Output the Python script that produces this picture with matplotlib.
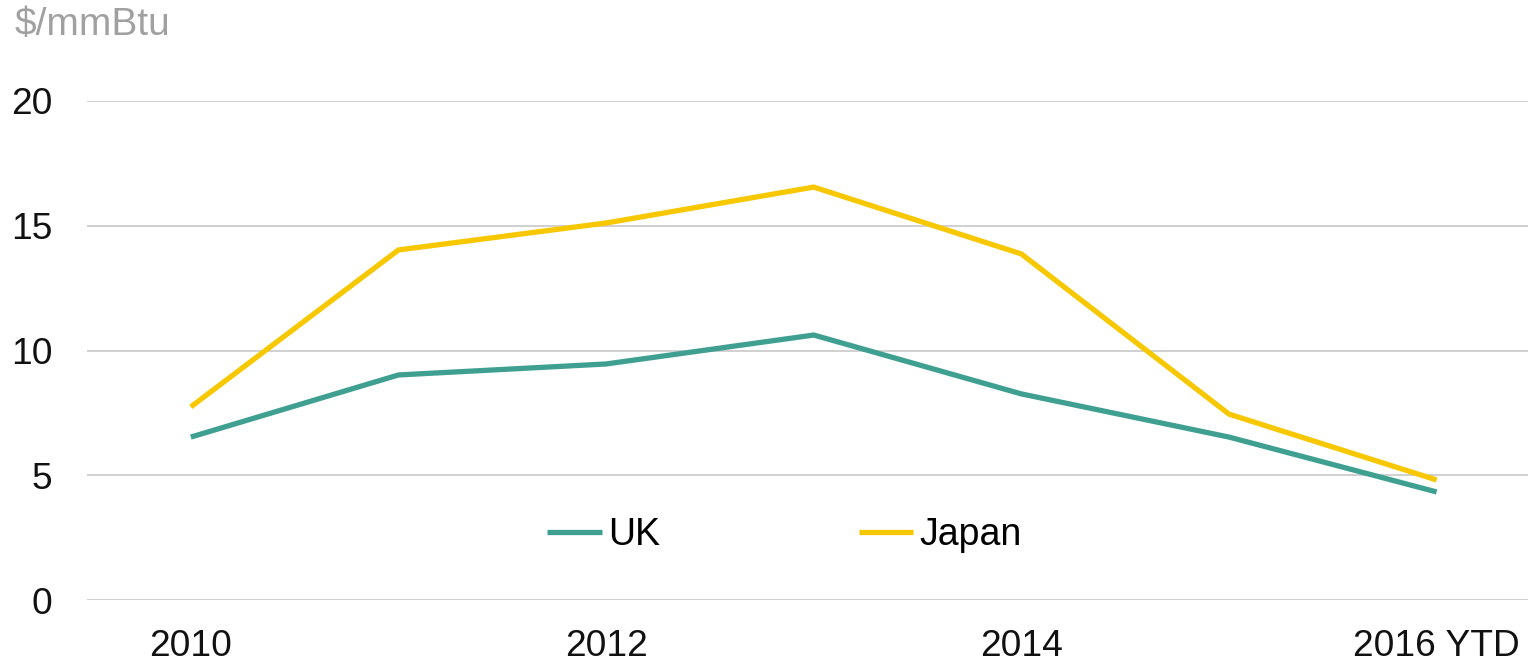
import matplotlib
matplotlib.use('Agg')
import matplotlib.pyplot as plt

plt.rcParams['font.family'] = ['Liberation Sans', 'DejaVu Sans']

years = ['2010', '2011', '2012', '2013', '2014', '2015', '2016 YTD']
uk = [6.53, 9.02, 9.46, 10.62, 8.26, 6.53, 4.33]
japan = [7.74, 14.03, 15.11, 16.55, 13.87, 7.45, 4.81]
tick_labels = ['2010', '', '2012', '', '2014', '', '2016 YTD']

fig = plt.figure(figsize=(15.28, 6.62), dpi=100)
ax = fig.add_axes([87/1528, 1-600/662, 1-87/1528, 499/662])

x = list(range(len(years)))
ax.plot(x, uk, color='#3fa092', lw=3.8, label='UK', solid_capstyle='butt')
ax.plot(x, japan, color='#f7c800', lw=3.8, label='Japan', solid_capstyle='butt')

ax.set_xlim(-0.5, 6.44)
ax.set_ylim(0, 20)
ax.set_yticks([0, 5, 10, 15, 20])
ax.set_xticks(x)
ax.set_xticklabels(tick_labels)
ax.tick_params(axis='both', length=0, labelsize=26.7, labelcolor='#111111')
ax.tick_params(axis='y', pad=25)
ax.tick_params(axis='x', pad=21)
ax.grid(axis='y', color='#c8c8c8', lw=1.2)
ax.set_axisbelow(True)
for s in ax.spines.values():
    s.set_visible(False)

ax.legend(loc='center', bbox_to_anchor=(0.484, 0.13), ncol=2, frameon=False,
          fontsize=27, handlelength=1.45, handletextpad=0.17, columnspacing=5.3)

fig.text(15/1528, 1-25/662, '$/mmBtu', color='#a0a0a0', fontsize=28, va='center', ha='left')

fig.savefig('out.png', dpi=100)
